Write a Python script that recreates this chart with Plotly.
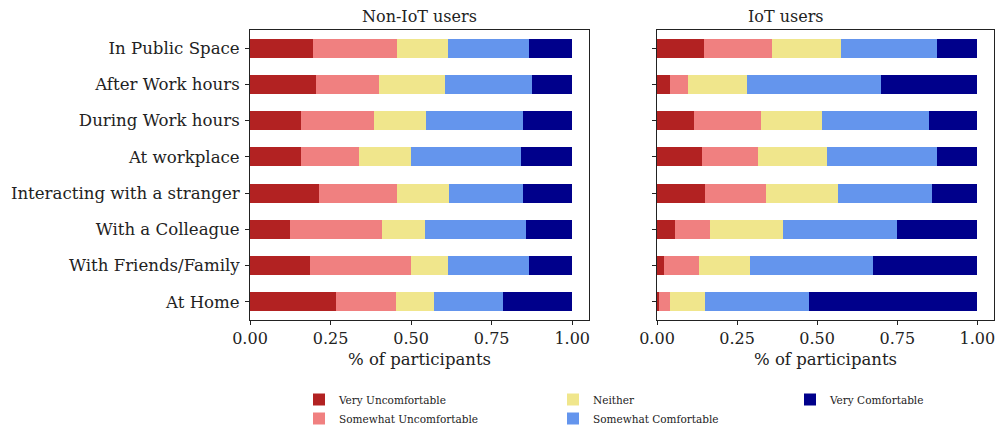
import plotly.graph_objects as go

# Contexts, listed top to bottom
contexts = [
    "In Public Space",
    "After Work hours",
    "During Work hours",
    "At workplace",
    "Interacting with a stranger",
    "With a Colleague",
    "With Friends/Family",
    "At Home",
]

levels = [
    "Very Uncomfortable",
    "Somewhat Uncomfortable",
    "Neither",
    "Somewhat Comfortable",
    "Very Comfortable",
]

# Share of participants per comfort level, Non-IoT users
non_iot_very_unc = [0.195, 0.205, 0.158, 0.158, 0.214, 0.124, 0.186, 0.267]
non_iot_some_unc = [0.261, 0.195, 0.227, 0.180, 0.242, 0.286, 0.313, 0.186]
non_iot_neither = [0.158, 0.205, 0.161, 0.161, 0.161, 0.133, 0.115, 0.118]
non_iot_some_com = [0.252, 0.270, 0.301, 0.342, 0.230, 0.313, 0.252, 0.214]
non_iot_very_com = [0.134, 0.125, 0.152, 0.159, 0.152, 0.144, 0.134, 0.215]

# Share of participants per comfort level, IoT users
iot_very_unc = [0.147, 0.041, 0.116, 0.141, 0.150, 0.057, 0.023, 0.007]
iot_some_unc = [0.211, 0.056, 0.208, 0.173, 0.189, 0.108, 0.108, 0.034]
iot_neither = [0.217, 0.183, 0.192, 0.218, 0.227, 0.227, 0.159, 0.109]
iot_some_com = [0.298, 0.419, 0.332, 0.341, 0.291, 0.357, 0.384, 0.323]
iot_very_com = [0.127, 0.301, 0.152, 0.127, 0.143, 0.251, 0.326, 0.527]

colors = ["#B22222", "#F08080", "#F0E68C", "#6495ED", "#00008B"]

non_iot = [non_iot_very_unc, non_iot_some_unc, non_iot_neither, non_iot_some_com, non_iot_very_com]
iot = [iot_very_unc, iot_some_unc, iot_neither, iot_some_com, iot_very_com]

# legend columns: (VU, SU) | (Neither, SC) | (VC)
legend_of = ["legend", "legend", "legend2", "legend2", "legend3"]

FONT = "DejaVu Serif"
TXT = "#222"

fig = go.Figure()
for i, name in enumerate(levels):
    fig.add_trace(go.Bar(
        y=contexts, x=non_iot[i], orientation="h", name=name,
        marker=dict(color=colors[i], line=dict(width=0)), width=0.53,
        xaxis="x", yaxis="y", legend=legend_of[i], showlegend=True,
    ))
    fig.add_trace(go.Bar(
        y=contexts, x=iot[i], orientation="h", name=name,
        marker=dict(color=colors[i], line=dict(width=0)), width=0.53,
        xaxis="x2", yaxis="y2", showlegend=False,
    ))

W, H = 996, 432
left_dom = [250 / W, 589 / W]
right_dom = [657 / W, 994 / W]
y_dom = [(H - 320) / H, (H - 30) / H]

axis_common = dict(
    showline=True, linecolor=TXT, linewidth=1, mirror=True,
    ticks="outside", ticklen=4, tickcolor=TXT, showgrid=False, zeroline=False,
    tickfont=dict(family=FONT, size=16, color=TXT), automargin=False,
)

xcommon = dict(axis_common, range=[0, 1.052], tick0=0, dtick=0.25, tickformat=".2f",
               title=dict(text="% of participants", font=dict(family=FONT, size=16.5, color=TXT), standoff=6))

fig.update_layout(
    width=W, height=H,
    margin=dict(l=0, r=0, t=0, b=0, autoexpand=False),
    plot_bgcolor="white", paper_bgcolor="white",
    barmode="stack", bargap=0,
    font=dict(family=FONT, color=TXT),
    xaxis=dict(xcommon, domain=left_dom, anchor="y"),
    xaxis2=dict(xcommon, domain=right_dom, anchor="y2"),
    yaxis=dict(axis_common, domain=y_dom, anchor="x", categoryorder="array",
               categoryarray=contexts[::-1], range=[-0.5, 7.5], ticklabelstandoff=2,
               tickfont=dict(family=FONT, size=16.6, color=TXT)),
    yaxis2=dict(axis_common, domain=y_dom, anchor="x2", categoryorder="array",
                categoryarray=contexts[::-1], range=[-0.5, 7.5], showticklabels=False),
    annotations=[
        dict(text="Non-IoT users", x=(left_dom[0] + left_dom[1]) / 2, y=(H - 16) / H,
             xref="paper", yref="paper", yanchor="middle", showarrow=False,
             font=dict(family=FONT, size=16, color=TXT)),
        dict(text="IoT users", x=(right_dom[0] + right_dom[1]) / 2, y=(H - 16) / H,
             xref="paper", yref="paper", yanchor="middle", showarrow=False,
             font=dict(family=FONT, size=16, color=TXT)),
    ],
)

legend_base = dict(bgcolor="rgba(0,0,0,0)", font=dict(family=FONT, size=10.5, color=TXT),
                   xanchor="left", yanchor="top", orientation="v", y=(H - 385) / H,
                   traceorder="normal", itemclick=False, tracegroupgap=0)
fig.update_layout(
    legend=dict(legend_base, x=299 / W),
    legend2=dict(legend_base, x=553 / W),
    legend3=dict(legend_base, x=790 / W),
)

fig.write_html("out.html")
